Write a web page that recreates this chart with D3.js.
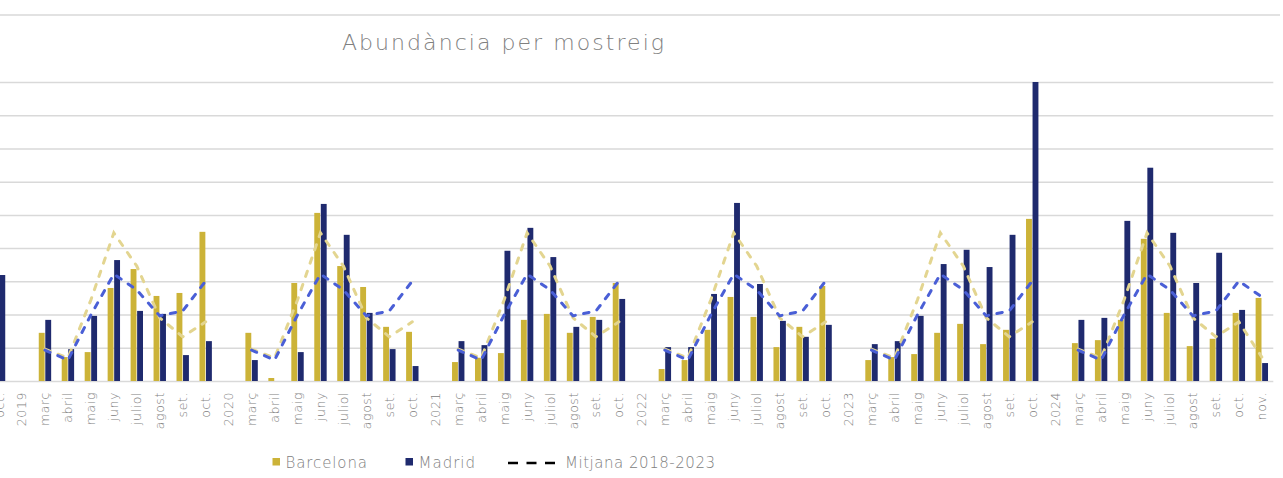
<!DOCTYPE html>
<html>
<head>
<meta charset="utf-8">
<script src="https://cdn.jsdelivr.net/npm/d3@7/dist/d3.min.js"></script>
<style>
  body { margin: 0; background: #fff; }
  svg { display: block; }
</style>
</head>
<body>
<div id="graphic"></div>
<script>
// categories along the x axis (first one, set. 2018, falls off the left edge)
const labels = [
  'set.', 'oct.',
  '2019', 'març', 'abril', 'maig', 'juny', 'juliol', 'agost', 'set.', 'oct.',
  '2020', 'març', 'abril', 'maig', 'juny', 'juliol', 'agost', 'set.', 'oct.',
  '2021', 'març', 'abril', 'maig', 'juny', 'juliol', 'agost', 'set.', 'oct.',
  '2022', 'març', 'abril', 'maig', 'juny', 'juliol', 'agost', 'set.', 'oct.',
  '2023', 'març', 'abril', 'maig', 'juny', 'juliol', 'agost', 'set.', 'oct.',
  '2024', 'març', 'abril', 'maig', 'juny', 'juliol', 'agost', 'set.', 'oct.', 'nov.'
]

// abundance per sampling, same order as labels (null = no sampling)
const barcelona = [
  null, null,
  null, 14.5, 7.2, 8.7, 28.0, 33.7, 25.6, 26.5, 44.9,
  null, 14.5, 0.9, 29.5, 50.6, 34.6, 28.3, 16.3, 14.8,
  null, 5.7, 7.0, 8.4, 18.4, 20.2, 14.5, 19.3, 29.5,
  null, 3.6, 6.3, 15.4, 25.3, 19.3, 10.2, 16.3, 28.6,
  null, 6.3, 7.2, 8.1, 14.5, 17.2, 11.1, 15.4, 48.8,
  null, 11.4, 12.3, 18.4, 42.8, 20.5, 10.5, 12.7, 20.5, 25.0
]

const madrid = [
  null, 31.9,
  null, 18.4, 9.6, 19.6, 36.4, 21.1, 20.2, 7.8, 12.0,
  null, 6.3, null, 8.7, 53.3, 44.0, 20.5, 9.6, 4.5,
  null, 12.0, 10.8, 39.2, 46.1, 37.3, 16.3, 18.4, 24.7,
  null, 10.2, 10.2, 26.2, 53.6, 29.2, 18.1, 13.3, 16.9,
  null, 11.1, 12.0, 19.6, 35.2, 39.5, 34.3, 44.0, 90.0,
  null, 18.4, 19.0, 48.2, 64.2, 44.6, 29.5, 38.6, 21.4, 5.4
]

// monthly average 2018-2023
const meanMonths = ['març', 'abril', 'maig', 'juny', 'juliol', 'agost', 'set.', 'oct.', 'nov.']
const meanBarcelona = [9.6, 6.9, 24.4, 44.6, 34.6, 19.0, 13.3, 17.8, 7.2]
const meanMadrid = [9.3, 6.3, 19.9, 32.2, 27.4, 19.6, 21.1, 30.1, 25.3]

const gridTicks = [0, 10, 20, 30, 40, 50, 60, 70, 80, 90]
const series = ['Barcelona', 'Madrid']

;(function () {
  var width = 1283
  var height = 478

  var colors = { Barcelona: '#ccb338', Madrid: '#1f2a6e' }
  var meanColors = { Barcelona: '#e3d590', Madrid: '#4a5fd6' }
  var font = "'DejaVu Sans', sans-serif"

  var svg = d3.select('#graphic')
    .append('svg')
    .attr('width', width)
    .attr('height', height)

  var plotLeft = -35.4
  var plotRight = 1273.3

  var x = d3.scaleBand()
    .domain(d3.range(labels.length))
    .range([plotLeft, plotRight])

  var x1 = d3.scaleBand()
    .domain(series)
    .range([x.bandwidth() * 0.23, x.bandwidth() * 0.77])
    .paddingInner(0.1)

  var y = d3.scaleLinear()
    .domain([0, 90])
    .range([381, 82])

  // top border line
  svg.append('line')
    .attr('x1', 0).attr('x2', 1280)
    .attr('y1', 15).attr('y2', 15)
    .attr('stroke', '#d9d9d9')
    .attr('stroke-width', 1.5)

  // gridlines
  var grid = svg.append('g')
    .attr('transform', 'translate(' + plotLeft + ',0)')
    .call(d3.axisLeft(y).tickValues(gridTicks).tickSize(-(plotRight - plotLeft)).tickFormat(''))
  grid.select('.domain').remove()
  grid.selectAll('line').attr('stroke', '#d9d9d9').attr('stroke-width', 1.5)

  // x axis labels (the off-screen set. 2018 gets no text)
  var xAxis = svg.append('g')
    .attr('transform', 'translate(0,381)')
    .call(d3.axisBottom(x).tickSize(0).tickFormat(i => i === 0 ? '' : labels[i]))
  xAxis.select('.domain').remove()
  xAxis.selectAll('text')
    .attr('transform', 'rotate(-90)')
    .attr('x', -11)
    .attr('y', 0)
    .attr('dy', '0.36em')
    .attr('text-anchor', 'end')
    .attr('fill', '#808080')
    .style('font-family', font)
    .style('font-size', '12.5px')
    .style('font-weight', 200)
    .style('letter-spacing', '0.6px')

  // bars
  svg.append('clipPath').attr('id', 'plot-clip')
    .append('rect')
    .attr('x', plotLeft).attr('y', y(90))
    .attr('width', plotRight - plotLeft).attr('height', y(0) - y(90))

  var groups = svg.append('g')
    .attr('clip-path', 'url(#plot-clip)')
    .selectAll('g')
    .data(labels.map((d, i) => i))
    .enter().append('g')
    .attr('transform', i => 'translate(' + x(i) + ',0)')

  groups.selectAll('rect')
    .data(i => [
      { key: 'Barcelona', value: barcelona[i] },
      { key: 'Madrid', value: madrid[i] }
    ].filter(d => d.value != null))
    .enter().append('rect')
    .attr('x', d => x1(d.key))
    .attr('width', x1.bandwidth())
    .attr('y', d => y(d.value))
    .attr('height', d => y(0) - y(d.value))
    .attr('fill', d => colors[d.key])

  // average lines
  function meanFor(values) {
    return labels.map(l => {
      var k = meanMonths.indexOf(l)
      return k < 0 ? null : values[k]
    })
  }

  var line = d3.line()
    .defined(d => d != null)
    .x((d, i) => x(i) + x.bandwidth() / 2)
    .y(d => y(d))

  svg.append('path')
    .datum(meanFor(meanBarcelona))
    .attr('d', line)
    .attr('fill', 'none')
    .attr('stroke', meanColors.Barcelona)
    .attr('stroke-width', 3)
    .attr('stroke-dasharray', '5.5,8.5')
    .attr('stroke-linecap', 'round')

  svg.append('path')
    .datum(meanFor(meanMadrid))
    .attr('d', line)
    .attr('fill', 'none')
    .attr('stroke', meanColors.Madrid)
    .attr('stroke-width', 3)
    .attr('stroke-dasharray', '5.5,8.5')
    .attr('stroke-linecap', 'round')

  // title
  svg.append('text')
    .attr('x', 342)
    .attr('y', 49.5)
    .attr('textLength', 322)
    .attr('lengthAdjust', 'spacing')
    .attr('fill', '#808080')
    .style('font-family', font)
    .style('font-size', '22px')
    .style('font-weight', 200)
    .text('Abundància per mostreig')

  // legend
  var legend = svg.append('g')
    .style('font-family', font)
    .style('font-size', '15px')
    .style('font-weight', 200)

  legend.append('rect').attr('x', 272.5).attr('y', 458).attr('width', 7.5).attr('height', 7.5).attr('fill', colors.Barcelona)
  legend.append('text').attr('x', 285.5).attr('y', 467.5).attr('textLength', 81.5).attr('lengthAdjust', 'spacing')
    .attr('fill', '#808080').text('Barcelona')

  legend.append('rect').attr('x', 405.5).attr('y', 458).attr('width', 7.5).attr('height', 7.5).attr('fill', colors.Madrid)
  legend.append('text').attr('x', 418.5).attr('y', 467.5).attr('textLength', 56.5).attr('lengthAdjust', 'spacing')
    .attr('fill', '#808080').text('Madrid')

  legend.append('line').attr('x1', 508).attr('x2', 555).attr('y1', 463).attr('y2', 463)
    .attr('stroke', '#000').attr('stroke-width', 2.5).attr('stroke-dasharray', '10,8.5')
  legend.append('text').attr('x', 565).attr('y', 467.5).attr('textLength', 150).attr('lengthAdjust', 'spacing')
    .attr('fill', '#808080').text('Mitjana 2018-2023')
})()
</script>
</body>
</html>
